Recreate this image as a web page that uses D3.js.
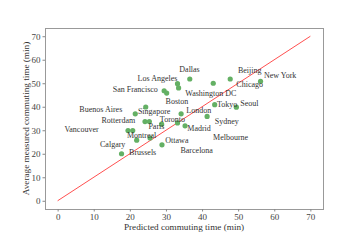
<!DOCTYPE html>
<html><head><meta charset="utf-8">
<script src="https://cdn.jsdelivr.net/npm/d3@7"></script>
<style>body{margin:0;background:#fff}svg{display:block}text{font-family:"Liberation Serif","DejaVu Serif",serif}</style>
</head><body>
<svg id="c" width="360" height="240"></svg>
<script>
const cities = ["San Francisco","Boston","Los Angeles","Washington DC","Dallas","Chicago","Beijing","New York","Buenos Aires","Singapore","London","Tokyo","Seoul","Sydney","Madrid","Rotterdam","Paris","Toronto","Melbourne","Vancouver","Montreal","Calgary","Ottawa","Brussels","Barcelona"];
const predicted = [29.5,30.2,33.2,33.5,36.6,43.1,47.8,56.2,24.4,21.5,34.2,43.5,49.5,41.4,35.3,24.2,25.4,28.8,33.2,19.5,20.8,21.9,25.6,17.7,28.9];
const measured  = [46.8,45.8,49.8,48.0,51.8,50.0,51.8,50.8,39.9,37.0,37.0,40.9,39.8,35.9,31.9,33.7,33.7,32.6,33.1,29.9,29.9,25.8,26.7,20.0,23.8];
const labelX = [15.25,29.89,22.15,35.36,33.7,49.5,49.94,57.13,6.02,22.24,35.64,44.14,50.61,43.51,35.91,12.15,25.14,28.31,43.04,1.88,19.2,11.74,29.83,19.8,34.03];
const labelY = [46.26,41.28,50.85,44.68,54.68,48.3,54.47,52.13,37.87,37.02,37.45,39.79,40.43,32.85,29.57,32.98,30.64,33.4,25.74,29.15,26.9,23.06,24.68,19.45,20.3];
const ticks = [0,10,20,30,40,50,60,70];
const lineX = [0,70];

const svg = d3.select("#c");
const L=45,R=323,T=28,B=209;
const x = d3.scaleLinear().domain([-3.5,73.5]).range([L,R]);
const y = d3.scaleLinear().domain([-3.5,73.5]).range([B,T]);

svg.append("rect").attr("x",L).attr("y",T).attr("width",R-L).attr("height",B-T)
  .attr("fill","none").attr("stroke","#999").attr("stroke-width",1).attr("shape-rendering","crispEdges");

const xa = svg.append("g").attr("transform",`translate(0,${B})`)
  .call(d3.axisBottom(x).tickValues(ticks).tickSize(2.5).tickPadding(2));
const ya = svg.append("g").attr("transform",`translate(${L},0)`)
  .call(d3.axisLeft(y).tickValues(ticks).tickSize(2.5).tickPadding(2));
[xa,ya].forEach(a=>{
  a.select(".domain").remove();
  a.selectAll(".tick line").attr("stroke","#888");
  a.selectAll(".tick text").attr("fill","#444").style("font-size","9px").style("font-family","Liberation Serif");
});

svg.append("path").datum(lineX)
  .attr("d", d3.line().x(d=>x(d)).y(d=>y(d)))
  .attr("stroke","#ff5050").attr("stroke-width",1).attr("fill","none");

svg.append("g").selectAll("circle").data(cities).join("circle")
  .attr("cx",(d,i)=>x(predicted[i])).attr("cy",(d,i)=>y(measured[i])).attr("r",2.6)
  .attr("fill","rgb(100,176,100)");

svg.append("g").selectAll("text").data(cities).join("text")
  .attr("x",(d,i)=>x(labelX[i])).attr("y",(d,i)=>y(labelY[i]))
  .attr("fill","#333").style("font-size","8px").text(d=>d);

svg.append("text").attr("x",(L+R)/2).attr("y",229.5).attr("text-anchor","middle")
  .attr("fill","#333").style("font-size","9.2px").text("Predicted commuting time (min)");
svg.append("text").attr("transform",`translate(29,${(T+B)/2}) rotate(-90)`).attr("text-anchor","middle")
  .attr("fill","#333").style("font-size","9.2px").text("Average measured commuting time (min)");
</script>
</body></html>
